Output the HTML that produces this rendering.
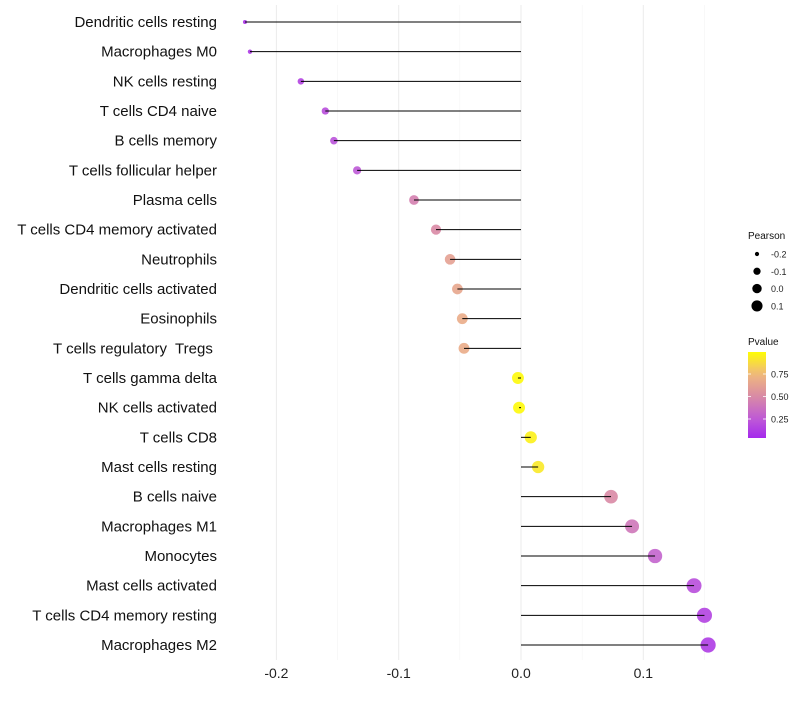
<!DOCTYPE html>
<html><head><meta charset="utf-8"><style>
body{margin:0;background:#fff;font-family:"Liberation Sans",sans-serif}
text{white-space:pre}
</style></head><body>
<svg id="chart" width="800" height="700" xmlns="http://www.w3.org/2000/svg" font-family="Liberation Sans, sans-serif"></svg>
<script>
const categories=["Dendritic cells resting","Macrophages M0","NK cells resting","T cells CD4 naive","B cells memory","T cells follicular helper","Plasma cells","T cells CD4 memory activated","Neutrophils","Dendritic cells activated","Eosinophils","T cells regulatory  Tregs ","T cells gamma delta","NK cells activated","T cells CD8","Mast cells resting","B cells naive","Macrophages M1","Monocytes","Mast cells activated","T cells CD4 memory resting","Macrophages M2"];
const pearson=[-0.2257,-0.2216,-0.180,-0.160,-0.153,-0.134,-0.0875,-0.0695,-0.058,-0.052,-0.048,-0.0466,-0.0025,-0.0016,0.008,0.014,0.0736,0.0908,0.1096,0.1415,0.150,0.153];
const pvalue=[0.08,0.1,0.15,0.2,0.22,0.25,0.45,0.5,0.62,0.65,0.68,0.68,0.98,0.98,0.95,0.92,0.5,0.4,0.3,0.2,0.15,0.12];
const xTicks=[-0.2,-0.1,0.0,0.1];
const xTickLabels=["-0.2","-0.1","0.0","0.1"];
const sizeLegend=[-0.2,-0.1,0.0,0.1];
const colorLegend=[0.25,0.5,0.75];

const svg=document.getElementById('chart');
const NS="http://www.w3.org/2000/svg";
function mk(t,a,p){const e=document.createElementNS(NS,t);for(const k in a)e.setAttribute(k,a[k]);(p||svg).appendChild(e);return e;}
const x=v=>521+v*1223;
const y=i=>22+i*29.667;
const r=v=>Math.sqrt(Math.max(2,36+141*v));
const rl=v=>Math.sqrt(Math.max(2,22+88*v));
const stops=[[0,[160,32,240]],[0.25,[190,90,215]],[0.5,[217,138,165]],[0.75,[240,185,125]],[1,[255,255,0]]];
function col(p){for(let i=1;i<stops.length;i++){if(p<=stops[i][0]){const a=stops[i-1],b=stops[i],t=(p-a[0])/(b[0]-a[0]);return 'rgb('+a[1].map((c,j)=>Math.round(c+(b[1][j]-c)*t)).join(',')+')';}}return 'rgb(255,255,0)';}

// grid
for(let k=-4;k<=3;k++){
  const v=k*0.05;
  const major=k%2===0;
  const g=mk('line',{x1:x(v),x2:x(v),y1:5,y2:660,stroke:major?'#ebebeb':'#f3f3f3','stroke-width':major?1:0.6});
  
  
}
xTicks.forEach((v,i)=>{
  const t=mk('text',{x:x(v),y:678,'text-anchor':'middle','font-size':14,fill:'#222'});t.textContent=xTickLabels[i];
  
  
});
categories.forEach((c,i)=>{
  const t=mk('text',{x:217,y:y(i)+5,'text-anchor':'end','font-size':15,fill:'#111'});t.textContent=c;
  
  
  const pt=mk('circle',{cx:x(pearson[i]),cy:y(i),r:r(pearson[i]),fill:col(pvalue[i]),'fill-opacity':0.9});
  
  
  const s=mk('line',{x1:x(0),x2:x(pearson[i]),y1:y(i),y2:y(i),stroke:'#000','stroke-width':1});
  
  
});
// legends
let t=mk('text',{x:748,y:239,'font-size':10,fill:'#111'});t.textContent='Pearson';


sizeLegend.forEach((v,i)=>{
  const yy=254+i*17.3;
  const c=mk('circle',{cx:757,cy:yy,r:rl(v),fill:'#000'});
  
  
  const l=mk('text',{x:771,y:yy+3.5,'font-size':9,fill:'#222'});l.textContent=v.toFixed(1);
  
  
});
t=mk('text',{x:748,y:345,'font-size':10,fill:'#111'});t.textContent='Pvalue';


const defs=mk('defs',{});
const lg=mk('linearGradient',{id:'pg',x1:0,y1:1,x2:0,y2:0},defs);
for(let k=0;k<=10;k++){const p=0.04+k*0.095;mk('stop',{offset:k/10,'stop-color':col(p)},lg);}
const bar=mk('rect',{x:748,y:352,width:18,height:86,fill:'url(#pg)'});


const py=p=>441.5-p*90;
colorLegend.forEach(p=>{
  mk('line',{x1:748,x2:751,y1:py(p),y2:py(p),stroke:'#fff','stroke-width':0.8});
  mk('line',{x1:763,x2:766,y1:py(p),y2:py(p),stroke:'#fff','stroke-width':0.8});
  const l=mk('text',{x:771,y:py(p)+3.5,'font-size':9,fill:'#222'});l.textContent=p.toFixed(2);
  
  
});
</script>
</body></html>
